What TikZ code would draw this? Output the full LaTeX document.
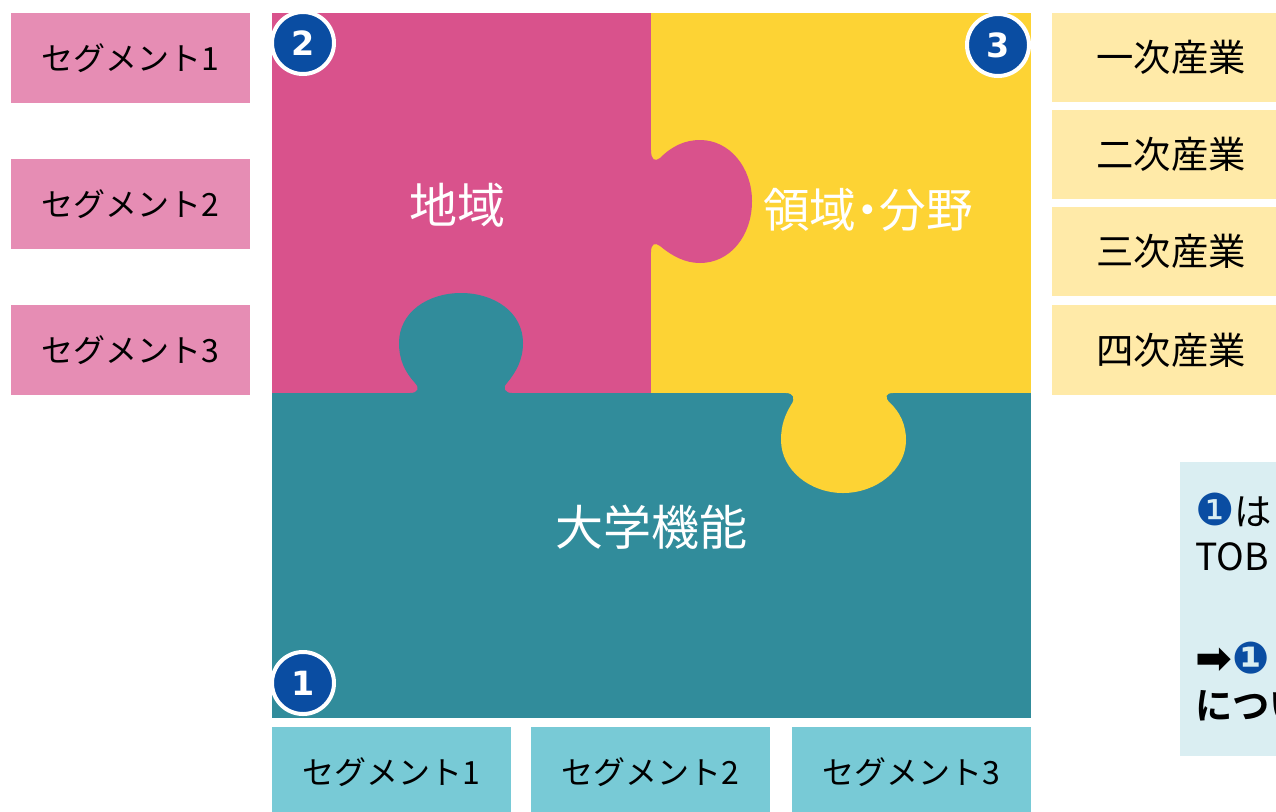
\documentclass[tikz,border=0pt]{standalone}
\usepackage{fontspec}
\setmainfont{Noto Sans CJK JP}[BoldFont={Noto Sans CJK JP Bold}]
\newfontfamily\dejavu{DejaVu Sans}
\definecolor{pinkP}{HTML}{D9528C}
\definecolor{yellowP}{HTML}{FDD334}
\definecolor{tealP}{HTML}{318C9B}
\definecolor{segpink}{HTML}{E68DB4}
\definecolor{segyellow}{HTML}{FFEAA8}
\definecolor{segteal}{HTML}{78CAD6}
\definecolor{notebg}{HTML}{DAEEF2}
\definecolor{numblue}{HTML}{0A4DA2}
\begin{document}
\begin{tikzpicture}[x=0.75pt,y=-0.75pt,
  box/.style={inner sep=0pt, minimum width=179.25pt, minimum height=67.5pt, text=black},
  segL/.style={box, fill=segpink, font=\fontsize{24}{28}\selectfont},
  segR/.style={box, fill=segyellow, font=\fontsize{28}{32}\selectfont},
  segB/.style={box, fill=segteal, font=\fontsize{24}{28}\selectfont},
  biglabel/.style={text=white, inner sep=0pt, font=\fontsize{36}{40}\selectfont},
  numc/.style={circle, fill=numblue, draw=white, line width=3pt, minimum size=46.5pt, inner sep=0pt, text=white, font=\dejavu\bfseries\fontsize{25}{25}\selectfont},
  notetext/.style={anchor=west, inner sep=0pt, text=black, font=\fontsize{28}{32}\selectfont}
]
\useasboundingbox (0,0) rectangle (1276,811);
\clip (0,0) rectangle (1276,811);

% left segment boxes
\node[segL] (l1) at (130.5,58) {セグメント1};
\node[segL] (l2) at (130.5,204) {セグメント2};
\node[segL] (l3) at (130.5,350) {セグメント3};

% right industry boxes
\node[segR, minimum height=66.75pt] (r1) at (1171,57.5) {一次産業};
\node[segR, minimum height=66.75pt] (r2) at (1171,154.5) {二次産業};
\node[segR, minimum height=66.75pt] (r3) at (1171,251.5) {三次産業};
\node[segR] (r4) at (1171,350) {四次産業};

% bottom segment boxes
\node[segB] (b1) at (391.5,772) {セグメント1};
\node[segB] (b2) at (650.5,772) {セグメント2};
\node[segB] (b3) at (911,772) {セグメント3};

% puzzle pieces
\fill[pinkP] (272,13) rectangle (651.5,393.5);
\fill[yellowP] (651,13) rectangle (1031,393.5);
\fill[tealP] (272,393) rectangle (1031,718);

% pink tab into yellow
\fill[pinkP] (650,150) -- (651,150) .. controls (651,160) and (655,162) .. (660,158)
  .. controls (672,146) and (685,140) .. (700,140)
  .. controls (730,140) and (752,168) .. (752,201)
  .. controls (752,236) and (730,263) .. (700,263)
  .. controls (685,263) and (672,256) .. (660,246)
  .. controls (655,242) and (651,244) .. (651,252) -- (650,252) -- cycle;

% teal tab into pink
\fill[tealP] (405,394) -- (410,393) .. controls (418,393) and (420,388) .. (415,383)
  .. controls (405,372) and (399,360) .. (399,343)
  .. controls (399,312) and (428,293) .. (461,293)
  .. controls (494,293) and (523,312) .. (523,343)
  .. controls (523,360) and (516,372) .. (507,383)
  .. controls (502,388) and (505,393) .. (512,393) -- (517,394) -- cycle;

% yellow tab into teal
\fill[yellowP] (780,392) -- (786,393) .. controls (793,393) and (796,398) .. (791,405)
  .. controls (785,415) and (781,425) .. (781,440)
  .. controls (781,470) and (810,493) .. (843,493)
  .. controls (876,493) and (906,470) .. (906,440)
  .. controls (906,425) and (900,412) .. (890,403)
  .. controls (884,397) and (886,393) .. (893,393) -- (898,392) -- cycle;

% piece labels
\node[biglabel] (p1) at (457,205) {地域};
\node[biglabel, font=\fontsize{35}{40}\selectfont\addfontfeatures{RawFeature=+palt}] (p2) at (868,210) {領域・分野};
\node[biglabel] (p3) at (651,527) {大学機能};

% number circles
\node[numc] (n1) at (303,683) {1};
\node[numc] (n2) at (303,43) {2};
\node[numc] (n3) at (998,45) {3};

% note box
\fill[notebg] (1180,462) rectangle (1300,756);
\node[notetext] (t1) at (1195,510) {{\color{numblue}\dejavu\fontsize{33}{33}\selectfont ❶}は};
\node[notetext] (t2) at (1195,557) {TOB};
\node[notetext, font=\fontsize{28}{32}\selectfont\bfseries] (t3) at (1195,658) {{\dejavu\fontsize{33}{33}\selectfont ➡}{\color{numblue}\dejavu\fontsize{33}{33}\selectfont ❶}};
\node[notetext, font=\fontsize{28}{32}\selectfont\bfseries] (t4) at (1195,706) {につい};
\end{tikzpicture}
\end{document}
